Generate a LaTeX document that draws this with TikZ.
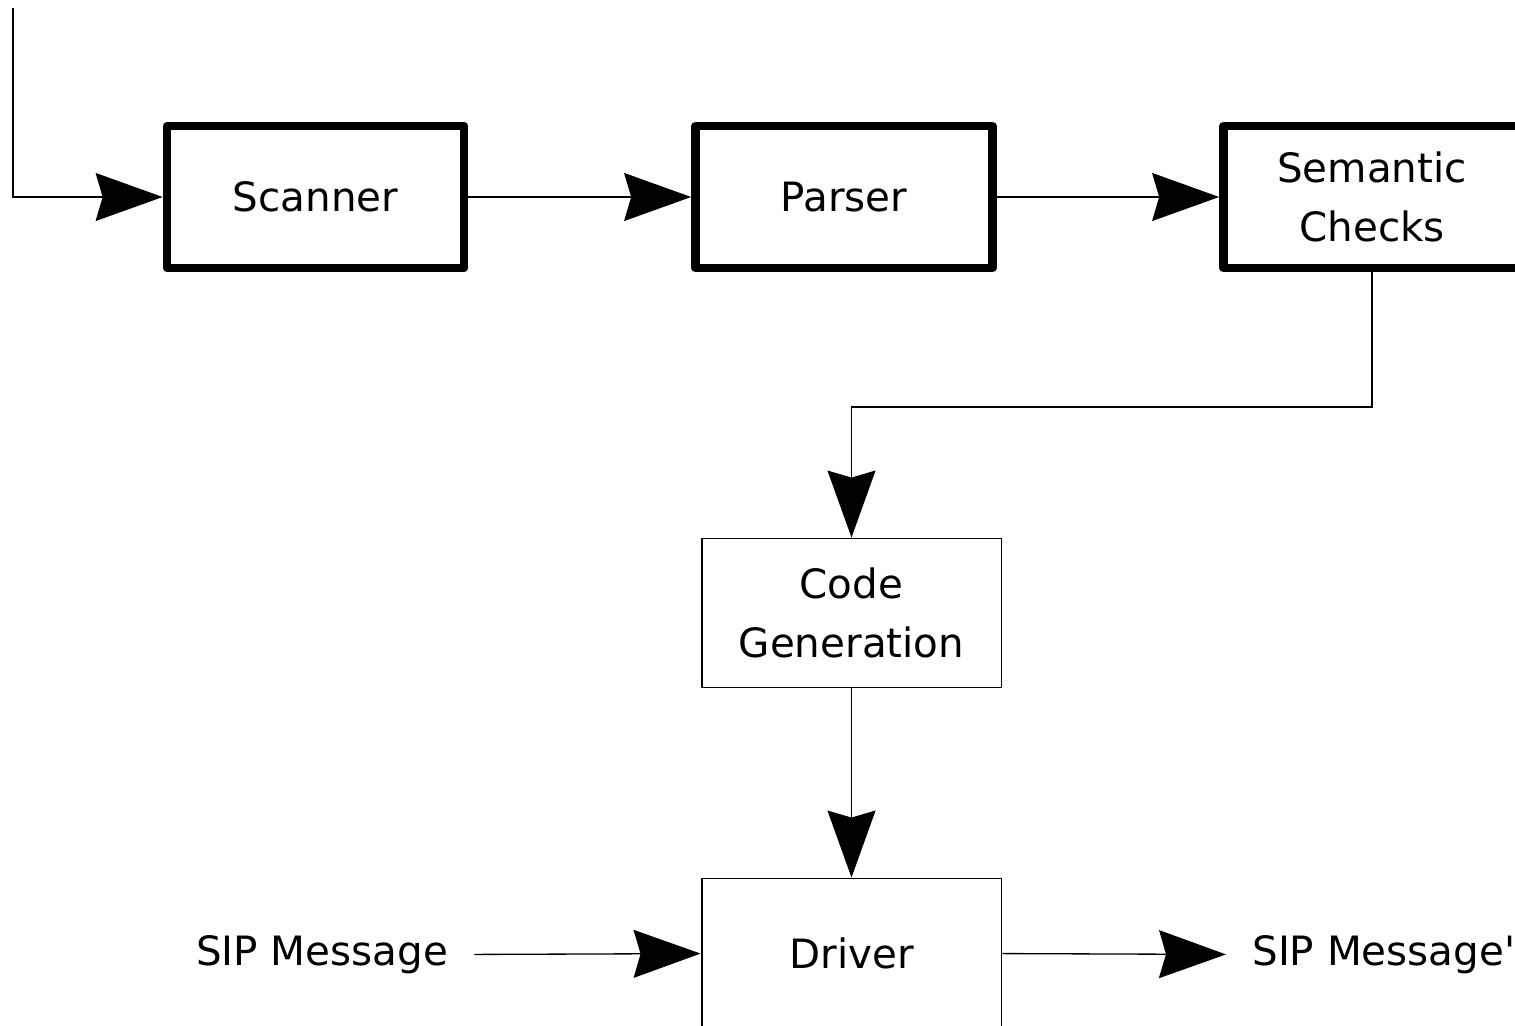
\documentclass[tikz,border=0pt]{standalone}
\usepackage{fontspec}
\setmainfont{DejaVu Sans}[Ligatures=TeXOff]
\usetikzlibrary{arrows.meta}

\tikzset{
  stage/.style={draw, line width=5pt, line join=round, minimum width=5.94cm, minimum height=2.84cm, align=center, inner sep=0pt},
  block/.style={draw, line width=1.1pt, minimum width=6cm, minimum height=2.98cm, align=center, inner sep=0pt},
  msg/.style={inner sep=0.52cm},
  flow/.style={line width=0.75pt, -{Stealth[length=1.34cm, width=0.96cm, inset=0.14cm]}},
}

\begin{document}
\begin{tikzpicture}[x=0.02cm, y=-0.02cm, font=\fontsize{23pt}{34pt}\selectfont]
\useasboundingbox (0,0) rectangle (1515,1025);
% front end
\node[stage] (scanner) at (315.5,197) {Scanner};
\node[stage] (parser) at (844,197) {Parser};
\node[stage] (semantic) at (1372,197) {Semantic\\Checks};
% back end
\node[block] (codegen) at (851.5,613) {Code\\Generation};
\node[block] (driver) at (851.5,953) {Driver};
\node[msg] (sipin) at (322,955) {SIP Message};
\node[msg, anchor=west] (sipout) at (1226,955) {SIP Message'};
\coordinate (input) at (13,8);
\coordinate (turn) at (1372,407);

\draw[flow] (input) |- (scanner);
\draw[flow] (scanner) -- (parser);
\draw[flow] (parser) -- (semantic);
\draw[flow] (semantic.south) |- (turn) -| (codegen.north);
\draw[flow] (codegen) -- (driver);
\draw[flow] (sipin) -- (driver);
\draw[flow] (driver) -- (sipout);
\end{tikzpicture}
\end{document}
